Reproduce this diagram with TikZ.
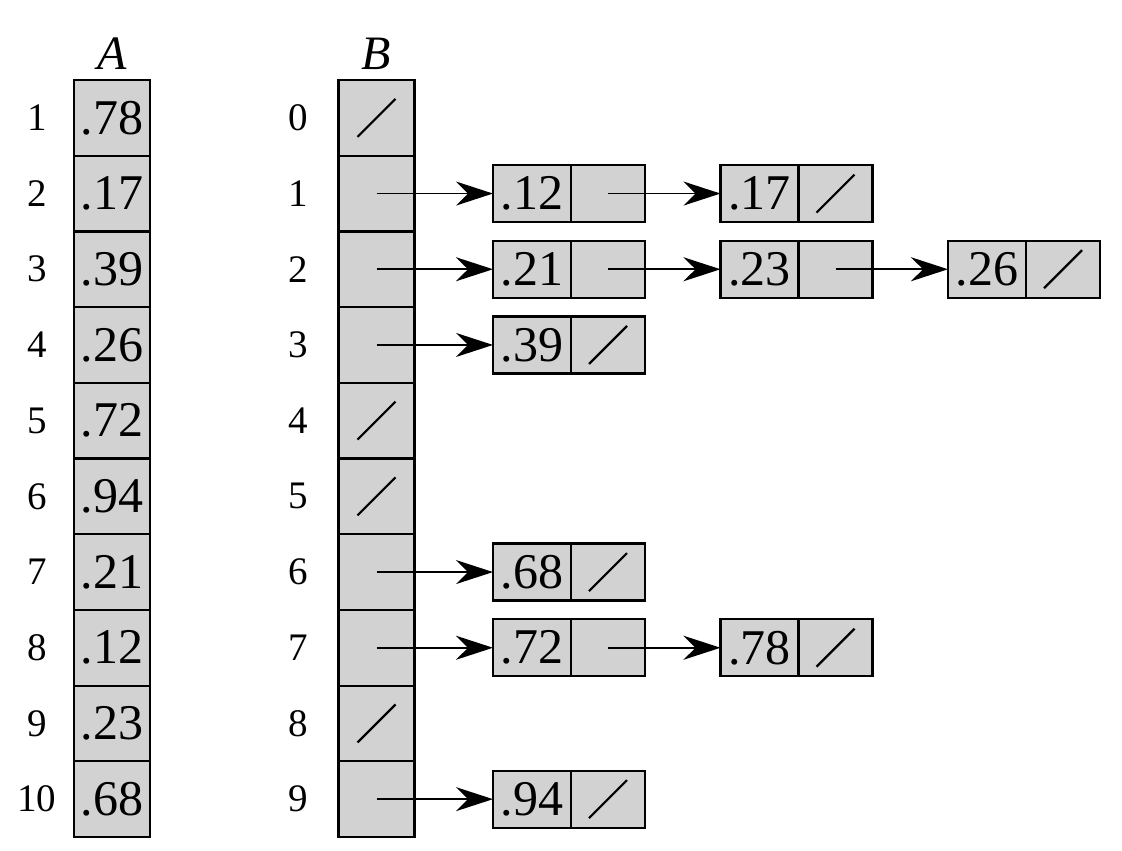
\documentclass[tikz,border=0pt]{standalone}
\usepackage{fontspec}
\setmainfont{Liberation Serif}
\usetikzlibrary{positioning,arrows.meta}
\definecolor{cellgray}{RGB}{210,210,210}
\tikzset{
  cell/.style={draw,fill=cellgray,line width=1.1pt,inner sep=0pt,outer sep=0pt,
    minimum width=38pt,minimum height=37.85pt,font=\fontsize{25}{29}\selectfont},
  keycell/.style={cell,minimum width=39pt,minimum height=28.5pt},
  ptrcell/.style={cell,minimum width=37pt,minimum height=28.5pt},
  idx/.style={font=\fontsize{19.5}{23}\selectfont},
  title/.style={font=\fontsize{24}{28}\selectfont\itshape},
  ptr/.style={line width=0.85pt,-{Stealth[length=18.5pt,width=12pt,inset=6pt]}},
  nil/.style={line width=1.1pt}
}
\begin{document}
\begin{tikzpicture}[x=0.5pt,y=-0.5pt]
  \useasboundingbox (0,0) rectangle (1122,850);
  % array A
  \node[title] (ta) at (112,54) {A};
  \foreach \v [count=\i] in {.78,.17,.39,.26,.72,.94,.21,.12,.23,.68} {
    \node[cell] (a\i) at (112,{80+75.7*(\i-0.5)}) {\v};
    \node[idx] (ia\i) at (37,{80+75.7*(\i-0.5)}) {\i};
  }
  % array B
  \node[title] (tb) at (376,54) {B};
  \foreach \i in {0,...,9} {
    \node[cell] (b\i) at (376.5,{80+75.7*(\i+0.5)}) {};
    \node[idx] (ib\i) at (298,{80+75.7*(\i+0.5)}) {\i};
  }
  % list elements
  \foreach \r/\c/\v in {1/1/.12,1/2/.17,2/1/.21,2/2/.23,2/3/.26,3/1/.39,6/1/.68,7/1/.72,7/2/.78,9/1/.94} {
    \node[keycell] (k\r\c) at ({532+227.5*(\c-1)},{80+75.7*(\r+0.5)}) {\v};
    \node[ptrcell,right=0pt of k\r\c] (p\r\c) {};
  }
  % pointers
  \foreach \r in {1,2,3,6,7,9}
    \draw[ptr] (b\r.center) -- (k\r1.west);
  \foreach \r/\c/\d in {1/1/2,2/1/2,2/2/3,7/1/2}
    \draw[ptr] (p\r\c.center) -- (k\r\d.west);
  % nil
  \foreach \n in {b0,b4,b5,b8,p12,p23,p31,p61,p72,p91}
    \draw[nil] (\n.center) ++(-19,19) -- ++(38,-38);
\end{tikzpicture}
\end{document}
